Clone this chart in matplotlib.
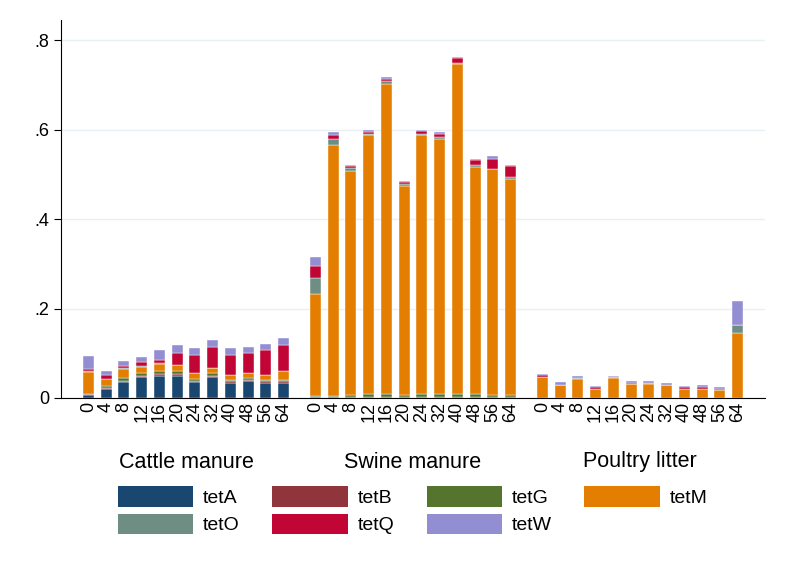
import numpy as np
import matplotlib.pyplot as plt
from matplotlib.patches import Patch

plt.rcParams['font.family'] = ['Liberation Sans', 'DejaVu Sans']

# 数据
groups = ['Cattle manure', 'Swine manure', 'Poultry litter']
days = ['0', '4', '8', '12', '16', '20', '24', '32', '40', '48', '56', '64']
genes = ['tetA', 'tetB', 'tetG', 'tetM', 'tetO', 'tetQ', 'tetW']
colors = ['#1a476f', '#90353b', '#55752f', '#e37e00', '#6e8e84', '#c10534', '#938dd2']

# 每组 12 个时间点, 行 = 基因
cattle = np.array([
    [0.006, 0.021, 0.035, 0.046, 0.050, 0.050, 0.036, 0.046, 0.033, 0.037, 0.033, 0.033],  # tetA
    [0.002, 0.002, 0.004, 0.004, 0.004, 0.004, 0.003, 0.004, 0.004, 0.004, 0.004, 0.004],  # tetB
    [0.002, 0.003, 0.005, 0.005, 0.007, 0.006, 0.004, 0.005, 0.004, 0.004, 0.004, 0.004],  # tetG
    [0.048, 0.016, 0.021, 0.015, 0.016, 0.013, 0.012, 0.012, 0.010, 0.010, 0.010, 0.019],  # tetM
    [0.002, 0.001, 0.001, 0.001, 0.001, 0.001, 0.001, 0.001, 0.001, 0.001, 0.001, 0.001],  # tetO
    [0.004, 0.008, 0.006, 0.010, 0.008, 0.026, 0.040, 0.045, 0.045, 0.045, 0.055, 0.057],  # tetQ
    [0.029, 0.010, 0.010, 0.011, 0.021, 0.019, 0.015, 0.016, 0.014, 0.014, 0.013, 0.016],  # tetW
])
swine = np.array([
    [0.001, 0.001, 0.001, 0.001, 0.001, 0.001, 0.001, 0.001, 0.001, 0.001, 0.001, 0.001],
    [0.001, 0.001, 0.001, 0.001, 0.001, 0.001, 0.001, 0.001, 0.001, 0.001, 0.001, 0.001],
    [0.002, 0.003, 0.005, 0.006, 0.007, 0.005, 0.006, 0.006, 0.006, 0.006, 0.005, 0.005],
    [0.228, 0.560, 0.501, 0.579, 0.694, 0.467, 0.579, 0.572, 0.738, 0.508, 0.504, 0.483],
    [0.037, 0.015, 0.006, 0.004, 0.006, 0.004, 0.003, 0.004, 0.004, 0.004, 0.002, 0.003],
    [0.027, 0.009, 0.004, 0.004, 0.005, 0.004, 0.006, 0.007, 0.010, 0.011, 0.022, 0.025],
    [0.019, 0.006, 0.004, 0.004, 0.003, 0.004, 0.003, 0.003, 0.003, 0.003, 0.005, 0.004],
])
poultry = np.array([
    [0.000, 0.000, 0.000, 0.000, 0.000, 0.000, 0.000, 0.000, 0.000, 0.000, 0.000, 0.000],
    [0.000, 0.000, 0.000, 0.000, 0.000, 0.000, 0.000, 0.000, 0.000, 0.000, 0.000, 0.000],
    [0.001, 0.001, 0.001, 0.001, 0.001, 0.001, 0.001, 0.001, 0.001, 0.001, 0.001, 0.001],
    [0.046, 0.029, 0.042, 0.019, 0.043, 0.031, 0.030, 0.027, 0.019, 0.020, 0.016, 0.144],
    [0.000, 0.000, 0.002, 0.000, 0.002, 0.000, 0.003, 0.000, 0.000, 0.000, 0.000, 0.018],
    [0.004, 0.000, 0.000, 0.004, 0.000, 0.002, 0.000, 0.002, 0.004, 0.003, 0.003, 0.000],
    [0.002, 0.006, 0.005, 0.003, 0.004, 0.003, 0.003, 0.003, 0.003, 0.004, 0.004, 0.053],
])
data = [cattle, swine, poultry]

fig = plt.figure(figsize=(7.87, 5.72), dpi=100)
ax = fig.add_axes([0.0775, 0.3042, 0.8945, 0.6608])

n = len(days)
gap = 1.8
positions = []
for g, vals in enumerate(data):
    x = np.arange(n) + g * (n - 1 + gap)
    positions.append(x)
    bottom = np.zeros(n)
    for k in range(len(genes)):
        ax.bar(x, vals[k], bottom=bottom, width=0.62, color=colors[k],
               edgecolor='white', linewidth=0.3)
        bottom += vals[k]

allx = np.concatenate(positions)
ax.set_xlim(allx[0] - 1.55, allx[-1] + 1.55)
ax.set_ylim(0, 0.845)
ax.set_xticks(allx)
ax.set_xticklabels(days * 3, rotation=90, fontsize=13)
ax.tick_params(axis='x', length=0, pad=3)
ax.set_yticks([0, 0.2, 0.4, 0.6, 0.8])
ax.set_yticklabels(['0', '.2', '.4', '.6', '.8'], fontsize=13)
ax.tick_params(axis='y', length=5, width=0.8)
ax.grid(True, axis='y', color='#e8f0f3', linewidth=1)
ax.set_axisbelow(True)
ax.spines['top'].set_visible(False)
ax.spines['right'].set_visible(False)

# 组标签
for g, x in enumerate(positions):
    xc = (x[0] + x[-1]) / 2
    xf = fig.transFigure.inverted().transform(ax.transData.transform((xc, 0)))[0]
    fig.text(xf, 1 - 462 / 572, groups[g], ha='center', va='center', fontsize=15.5)

handles = [Patch(facecolor=c, edgecolor='none') for c in colors]
order = [0, 4, 1, 5, 2, 6, 3]
fig.legend([handles[i] for i in order], [genes[i] for i in order], ncol=4,
           loc='upper left', bbox_to_anchor=(118 / 787, 1 - 486 / 572), frameon=False,
           fontsize=14, borderpad=0, borderaxespad=0, handlelength=3.87,
           handleheight=1.25, columnspacing=1.68, handletextpad=0.5, labelspacing=0.35)

fig.savefig('out.png', dpi=100)
